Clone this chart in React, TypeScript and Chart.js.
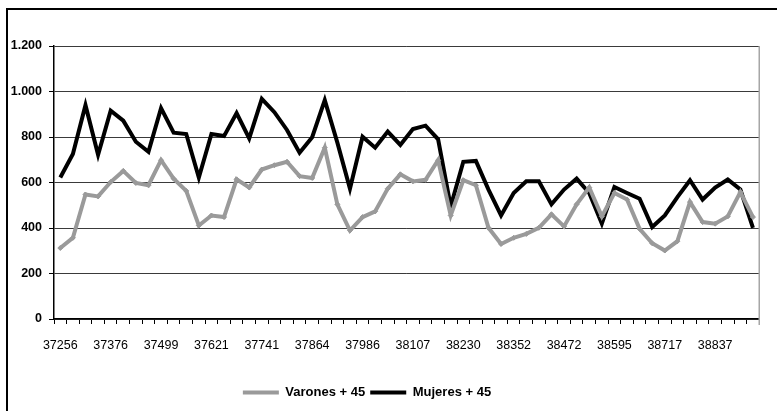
import React, { useEffect, useRef } from 'react';
import { Chart, registerables } from 'chart.js';

Chart.register(...registerables);

// Month-end Excel date serials (Dec 2001 .. Jul 2006)
const categories: string[] = [
  '37256', '37287', '37315', '37346', '37376', '37407', '37437', '37468', '37499', '37529', '37560', '37590',
  '37621', '37652', '37680', '37711', '37741', '37772', '37802', '37833', '37864', '37894', '37925', '37955',
  '37986', '38017', '38046', '38077', '38107', '38138', '38168', '38199', '38230', '38260', '38291', '38321',
  '38352', '38383', '38411', '38442', '38472', '38503', '38533', '38564', '38595', '38625', '38656', '38686',
  '38717', '38748', '38776', '38807', '38837', '38868', '38898', '38929',
];

const varones: number[] = [
  312, 357, 547, 539, 602, 651, 598, 588, 698, 617, 563, 411,
  455, 448, 614, 578, 657, 676, 691, 628, 620, 753, 504, 389,
  448, 473, 573, 636, 605, 612, 698, 455, 610, 588, 401, 330,
  357, 374, 401, 460, 407, 504, 578, 451, 554, 525, 396, 333,
  301, 342, 514, 426, 419, 451, 558, 448,
];

const mujeres: number[] = [
  622, 725, 940, 722, 916, 872, 779, 735, 927, 819, 813, 622,
  813, 804, 905, 794, 968, 909, 831, 731, 799, 962, 775, 573,
  801, 753, 824, 765, 835, 850, 790, 495, 691, 695, 569, 455,
  554, 605, 605, 504, 569, 617, 554, 419, 580, 554, 529, 404,
  455, 536, 610, 525, 578, 613, 569, 401,
];

const seriesNames: string[] = ['Varones + 45', 'Mujeres + 45'];
const yMin = 0;
const yMax = 1200;
const yStep = 200;
const labelEvery = 4;

const FONT = "'Liberation Sans', Arial, Helvetica, sans-serif";

function fmtThousands(v: number): string {
  if (v >= 1000) {
    const t = Math.floor(v / 1000);
    const r = String(Math.round(v % 1000)).padStart(3, '0');
    return `${t}.${r}`;
  }
  return String(v);
}

const rightBorder = {
  id: 'rightBorder',
  beforeDatasetsDraw(chart: any) {
    const { ctx, chartArea } = chart;
    ctx.save();
    ctx.strokeStyle = '#a6a6a6';
    ctx.lineWidth = 1.5;
    ctx.beginPath();
    ctx.moveTo(chartArea.right, chartArea.top);
    ctx.lineTo(chartArea.right, chartArea.bottom + 6);
    ctx.stroke();
    ctx.restore();
  },
};

export default function App() {
  const ref = useRef<HTMLCanvasElement>(null);

  useEffect(() => {
    const canvas = ref.current;
    if (!canvas) return;
    const chart = new Chart(canvas, {
      type: 'line',
      data: {
        labels: categories,
        datasets: [
          {
            label: seriesNames[0],
            data: varones,
            borderColor: '#9a9a9a',
            backgroundColor: '#9a9a9a',
            borderWidth: 4,
            pointStyle: 'rectRot',
            pointRadius: 2.5,
            pointBorderWidth: 1,
            pointBackgroundColor: '#9a9a9a',
            pointBorderColor: '#9a9a9a',
            tension: 0,
            borderJoinStyle: 'miter',
          },
          {
            label: seriesNames[1],
            data: mujeres,
            borderColor: '#000000',
            backgroundColor: '#000000',
            borderWidth: 4,
            pointRadius: 0,
            tension: 0,
            borderJoinStyle: 'miter',
          },
        ],
      },
      options: {
        responsive: false,
        animation: false,
        devicePixelRatio: 1,
        layout: { padding: { top: 46, right: 4, bottom: 2, left: 0 } },
        plugins: {
          tooltip: { enabled: false },
          legend: {
            position: 'bottom',
            labels: {
              usePointStyle: true,
              pointStyle: 'line',
              pointStyleWidth: 36,
              padding: 5,
              color: '#000',
              font: { family: FONT, size: 13, weight: 'bold' },
              generateLabels: (chart: any) => {
                const items = (Chart.defaults.plugins.legend.labels as any).generateLabels(chart);
                items.forEach((it: any) => {
                  it.lineWidth = 4;
                });
                return items;
              },
            },
          },
        },
        scales: {
          x: {
            type: 'category',
            offset: true,
            afterFit: (scale: any) => {
              scale.height = 62;
            },
            grid: {
              display: true,
              offset: true,
              drawOnChartArea: false,
              drawTicks: true,
              tickLength: 5,
              tickColor: '#000',
              tickWidth: 1,
            },
            border: { display: true, color: '#000', width: 1.5 },
            ticks: {
              autoSkip: false,
              maxRotation: 0,
              minRotation: 0,
              padding: 14,
              color: '#000',
              font: { family: FONT, size: 12.5 },
              callback: (_v: any, i: number) => (i % labelEvery === 0 ? categories[i] : ''),
            },
          },
          y: {
            min: yMin,
            max: yMax,
            afterFit: (scale: any) => {
              scale.width = 83;
            },
            grid: {
              color: '#3a3a3a',
              lineWidth: 1,
              drawTicks: true,
              tickLength: 5,
              tickColor: '#000',
            },
            border: { display: true, color: '#000', width: 1.5 },
            ticks: {
              stepSize: yStep,
              padding: 7,
              color: '#000',
              font: { family: FONT, size: 12.5, weight: 'bold' },
              callback: (v: any) => fmtThousands(Number(v)),
            },
          },
        },
      },
      plugins: [rightBorder],
    } as any);
    return () => chart.destroy();
  }, []);

  return (
    <div
      style={{
        position: 'fixed',
        left: 0,
        top: 0,
        width: 777,
        height: 411,
        overflow: 'hidden',
        background: '#fff',
      }}
    >
      <div
        style={{
          position: 'absolute',
          left: 6,
          top: 8,
          width: 820,
          height: 430,
          border: '2px solid #000',
          boxSizing: 'border-box',
        }}
      />
      <canvas
        ref={ref}
        width={796}
        height={411}
        style={{ position: 'absolute', left: -29, top: 0, width: 796, height: 411 }}
      />
    </div>
  );
}
